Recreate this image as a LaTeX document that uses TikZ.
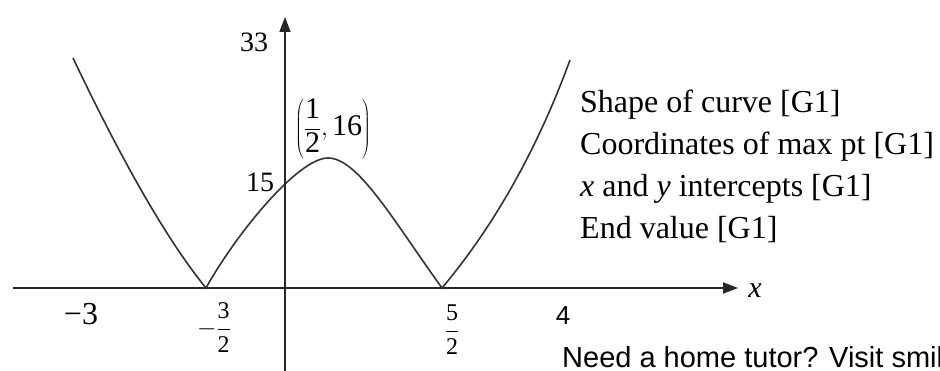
\documentclass[tikz,border=0pt]{standalone}
\usepackage{fontspec}
\setmainfont{Liberation Serif}
\newfontfamily\wmfont{Liberation Sans}
\usetikzlibrary{arrows.meta}
\begin{document}
\begin{tikzpicture}[x=1pt,y=-1pt,
  axis/.style={line width=1.6pt, draw=black!85, -{Triangle[length=15pt,width=11pt]}},
  curve/.style={line width=1.6pt, draw=black!80},
  lbl/.style={inner sep=0pt, font=\fontsize{28}{30}\selectfont},
  small/.style={inner sep=0pt, font=\fontsize{24}{24}\selectfont},
  schemeline/.style={inner sep=0pt, anchor=base west, font=\fontsize{32}{34}\selectfont}]
\useasboundingbox (0,0) rectangle (940,371);
% axes
\coordinate (xl) at (13,288);
\coordinate (xr) at (738,288);
\coordinate (yb) at (285,371);
\coordinate (yt) at (285,17);
\draw[axis] (xl) -- (xr);
\draw[axis] (yb) -- (yt);
% curve
\coordinate (pL) at (73,58);
\coordinate (zL) at (206,288);
\coordinate (pk) at (328,158);
\coordinate (zR) at (442,288);
\coordinate (pR) at (570,60);
\draw[curve] (pL) .. controls (123,163) and (167,240) .. (zL)
  .. controls (236,234) and (298,158) .. (pk)
  .. controls (358,158) and (393,220) .. (zR)
  .. controls (494,226) and (537,150) .. (pR);
% labels
\node[lbl] (l33) at (254,42) {33};
\node[lbl] (l15) at (260,182) {15};
\node[lbl, font=\fontsize{32}{32}\selectfont] (lm3) at (81,314) {−3};
\node[small] (lm32) at (214,328) {$-\displaystyle\frac{\mbox{3}}{\mbox{2}}$};
\node[small] (l52) at (452,330) {$\displaystyle\frac{\mbox{5}}{\mbox{2}}$};
\node[lbl, font=\wmfont\fontsize{26}{26}\selectfont] (l4) at (563,316) {4};
\node[lbl, font=\fontsize{30}{30}\selectfont] (lmax) at (333,129) {$\displaystyle\left(\frac{\mbox{1}}{\mbox{2}},\mbox{16}\right)$};
\node[lbl, font=\fontsize{30}{30}\selectfont\itshape] (lx) at (755,291) {x};
% marking scheme
\node[schemeline] (t1) at (580,113) {Shape of curve [G1]};
\node[schemeline] (t2) at (580,155) {Coordinates of max pt [G1]};
\node[schemeline] (t3) at (580,197) {\textit{x} and \textit{y} intercepts [G1]};
\node[schemeline] (t4) at (580,239) {End value [G1]};
% watermark
\begin{scope}
\clip (0,0) rectangle (940,371);
\node[anchor=base west, inner sep=0pt, font=\wmfont\fontsize{29}{29}\selectfont] (wm) at (562,367) {Need a home tutor? Visit smiletutor.sg};
\end{scope}
\end{tikzpicture}
\end{document}
